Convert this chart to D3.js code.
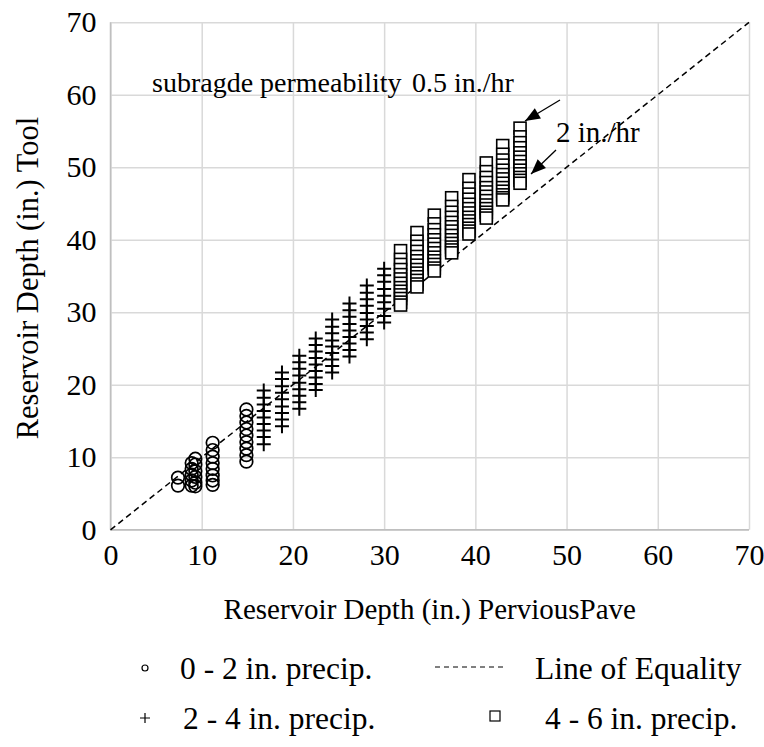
<!DOCTYPE html>
<html><head>
<script src="https://cdn.jsdelivr.net/npm/d3@7"></script>
</head>
<body style="margin:0">
<svg id="chart" width="764" height="747" font-family="Liberation Serif" style="font-family:'Liberation Serif'"></svg>
<script>
// ---- data ----
const xTicks = [0, 10, 20, 30, 40, 50, 60, 70];
const yTicks = [0, 10, 20, 30, 40, 50, 60, 70];

// 0 - 2 in. precip. (circles): PerviousPave depth per column, Tool depths per column
const circleX = [7.4, 8.9, 9.3, 11.2, 14.9];
const circleY = [
  [7.2, 6.1],
  [9.2, 8.4, 7.6, 6.8, 6.1],
  [9.8, 9.0, 8.1, 7.3, 6.5, 6.0],
  [12.0, 11.0, 10.1, 9.2, 8.4, 7.5, 6.8, 6.2],
  [16.6, 15.7, 14.8, 13.9, 13.0, 12.1, 11.2, 10.3, 9.4]
];

// 2 - 4 in. precip. (plus)
const plusX = [16.8, 18.8, 20.7, 22.5, 24.3, 26.2, 28.1, 30.0];
const plusY = [
  [19.2, 18.2, 17.3, 16.4, 15.5, 14.6, 13.7, 12.8, 11.8],
  [21.7, 20.8, 19.8, 18.9, 18.0, 17.0, 16.1, 15.2, 14.3],
  [24.0, 23.1, 22.2, 21.3, 20.3, 19.4, 18.5, 17.6, 16.7],
  [26.4, 25.5, 24.6, 23.7, 22.8, 21.9, 21.0, 20.1, 19.3],
  [29.0, 28.0, 27.1, 26.1, 25.3, 24.4, 23.5, 22.6, 21.7],
  [31.2, 30.3, 29.4, 28.4, 27.5, 26.6, 25.7, 24.8, 23.9],
  [33.7, 32.7, 31.8, 30.9, 29.9, 29.0, 28.1, 27.2, 26.3],
  [36.0, 35.1, 34.2, 33.2, 32.3, 31.4, 30.5, 29.5, 28.6]
];

// 4 - 6 in. precip. (squares)
const squareX = [31.8, 33.6, 35.5, 37.4, 39.3, 41.2, 43.0, 44.9];
const squareY = [
  [38.5, 37.3, 36.6, 35.9, 35.2, 34.6, 34.0, 33.4, 32.9, 32.4, 31.9, 31.4, 31.0],
  [41.0, 39.8, 39.1, 38.4, 37.7, 37.1, 36.5, 35.9, 35.4, 34.9, 34.4, 33.9, 33.5],
  [43.4, 42.2, 41.4, 40.7, 40.0, 39.4, 38.8, 38.2, 37.6, 37.1, 36.6, 36.1, 35.7],
  [45.8, 44.6, 43.8, 43.1, 42.4, 41.8, 41.2, 40.6, 40.0, 39.5, 39.0, 38.6, 38.2],
  [48.3, 47.1, 46.3, 45.6, 44.9, 44.3, 43.7, 43.1, 42.6, 42.1, 41.6, 41.2, 40.8],
  [50.6, 49.4, 48.6, 47.9, 47.2, 46.6, 46.0, 45.4, 44.8, 44.3, 43.8, 43.4, 43.0],
  [53.0, 51.8, 51.0, 50.3, 49.6, 49.0, 48.4, 47.8, 47.2, 46.7, 46.2, 45.8, 45.5],
  [55.4, 54.2, 53.4, 52.7, 52.0, 51.4, 50.8, 50.2, 49.6, 49.1, 48.6, 48.2, 47.8]
];

const equalityLine = [0, 70];

const legendLabels = ["0 - 2 in. precip.", "Line of Equality", "2 - 4 in. precip.", "4 - 6 in. precip."];
const xTitle = "Reservoir Depth (in.) PerviousPave";
const yTitle = "Reservoir Depth (in.) Tool";
const note1 = "subragde permeability";
const note1b = "0.5 in./hr";
const note2 = "2 in./hr";

// ---- layout ----
const FONT = "Liberation Serif";
const svg = d3.select("#chart");
const L = 110.5, R = 749, T = 22.3, B = 529.8;
const x = d3.scaleLinear().domain([0, 70]).range([L, R]);
const y = d3.scaleLinear().domain([0, 70]).range([B, T]);
const FS = 30;
const grid = "#d9d9d9";

function txt(sel, fs) {
  return sel.append("text").attr("font-family", FONT).style("font-family", "'Liberation Serif'")
    .attr("font-size", fs || FS).attr("fill", "#000");
}

// gridlines
const gx = svg.append("g").attr("transform", `translate(0,${B})`)
  .call(d3.axisBottom(x).tickValues(xTicks).tickSize(-(B - T)).tickFormat(""));
gx.select(".domain").remove();
gx.selectAll("text").remove();
gx.selectAll("line").attr("stroke", grid).attr("stroke-width", 1.5);
const gy = svg.append("g").attr("transform", `translate(${L},0)`)
  .call(d3.axisLeft(y).tickValues(yTicks).tickSize(-(R - L)).tickFormat(""));
gy.select(".domain").remove();
gy.selectAll("text").remove();
gy.selectAll("line").attr("stroke", grid).attr("stroke-width", 1.5);

// axis lines
svg.append("line").attr("x1", L).attr("x2", R).attr("y1", B).attr("y2", B).attr("stroke", "#bfbfbf").attr("stroke-width", 1.5);
svg.append("line").attr("x1", L).attr("x2", L).attr("y1", T).attr("y2", B).attr("stroke", "#bfbfbf").attr("stroke-width", 1.5);

// tick labels
const ax = svg.append("g").attr("transform", `translate(0,${B})`)
  .call(d3.axisBottom(x).tickValues(xTicks).tickSize(0).tickPadding(14).tickFormat(d3.format("d")));
ax.attr("font-family", FONT).attr("font-size", FS);
ax.select(".domain").remove();
ax.selectAll("text").attr("font-family", FONT).style("font-family", "'Liberation Serif'").attr("font-size", FS).attr("fill", "#000");
const ay = svg.append("g").attr("transform", `translate(${L},0)`)
  .call(d3.axisLeft(y).tickValues(yTicks).tickSize(0).tickPadding(14).tickFormat(d3.format("d")));
ay.attr("font-family", FONT).attr("font-size", FS);
ay.select(".domain").remove();
ay.selectAll("text").attr("font-family", FONT).style("font-family", "'Liberation Serif'").attr("font-size", FS).attr("fill", "#000");

// axis titles
txt(svg, 29).attr("x", (L + R) / 2).attr("y", 619).attr("text-anchor", "middle").text(xTitle);
txt(svg, 30.5).attr("transform", `translate(38,${(T + B) / 2 + 2}) rotate(-90)`).attr("text-anchor", "middle").text(yTitle);

// line of equality
svg.append("line")
  .attr("x1", x(equalityLine[0])).attr("y1", y(equalityLine[0]))
  .attr("x2", x(equalityLine[1])).attr("y2", y(equalityLine[1]))
  .attr("stroke", "#000").attr("stroke-width", 1.5).attr("stroke-dasharray", "6,4");

// markers
function flatten(xs, ys) {
  const out = [];
  xs.forEach((xv, i) => ys[i].forEach(yv => out.push([xv, yv])));
  return out;
}
const circles = flatten(circleX, circleY);
const pluses = flatten(plusX, plusY);
const squares = flatten(squareX, squareY);

svg.append("g").selectAll("circle").data(circles).join("circle")
  .attr("cx", d => x(d[0])).attr("cy", d => y(d[1])).attr("r", 6.3)
  .attr("fill", "none").attr("stroke", "#000").attr("stroke-width", 1.7);

svg.append("g").selectAll("path").data(pluses).join("path")
  .attr("transform", d => `translate(${x(d[0])},${y(d[1])})`)
  .attr("d", "M-7,0H7M0,-7V7")
  .attr("fill", "none").attr("stroke", "#000").attr("stroke-width", 2);

svg.append("g").selectAll("rect").data(squares).join("rect")
  .attr("x", d => x(d[0]) - 6).attr("y", d => y(d[1]) - 6).attr("width", 12).attr("height", 12)
  .attr("fill", "#fff").attr("stroke", "#000").attr("stroke-width", 1.6);

// annotations: arrows drawn as line + filled triangle head
function arrow(x1, y1, x2, y2) {
  svg.append("line").attr("x1", x1).attr("y1", y1).attr("x2", x2).attr("y2", y2)
    .attr("stroke", "#000").attr("stroke-width", 1.3);
  const a = Math.atan2(y2 - y1, x2 - x1), len = 15, w = 6;
  const bx = x2 - len * Math.cos(a), by = y2 - len * Math.sin(a);
  const px = -Math.sin(a) * w, py = Math.cos(a) * w;
  svg.append("path").attr("d", `M${x2},${y2}L${bx + px},${by + py}L${bx - px},${by - py}Z`).attr("fill", "#000");
}

txt(svg, 28).attr("x", 152).attr("y", 92).text(note1);
txt(svg, 28).attr("x", 412).attr("y", 92).text(note1b);
txt(svg, 29).attr("x", 556).attr("y", 142).text(note2);
arrow(560, 100, 525, 121);
arrow(556, 150, 531, 174);

// legend
const LFS = 31.5;
const lg = svg.append("g");
lg.append("circle").attr("cx", 145).attr("cy", 668).attr("r", 3).attr("fill", "none").attr("stroke", "#000").attr("stroke-width", 1.2);
txt(lg, LFS).attr("x", 180).attr("y", 679).text(legendLabels[0]);
lg.append("line").attr("x1", 435).attr("x2", 503).attr("y1", 667).attr("y2", 667)
  .attr("stroke", "#000").attr("stroke-width", 1).attr("stroke-dasharray", "5,4");
txt(lg, LFS).attr("x", 535).attr("y", 679).text(legendLabels[1]);
lg.append("path").attr("transform", "translate(145,718)").attr("d", "M-5,0H5M0,-5V5")
  .attr("stroke", "#000").attr("stroke-width", 1.2);
txt(lg, LFS).attr("x", 183).attr("y", 729).text(legendLabels[2]);
lg.append("rect").attr("x", 490).attr("y", 711).attr("width", 10).attr("height", 10)
  .attr("fill", "none").attr("stroke", "#000").attr("stroke-width", 1.2);
txt(lg, LFS).attr("x", 545).attr("y", 729).text(legendLabels[3]);
</script>
</body></html>
